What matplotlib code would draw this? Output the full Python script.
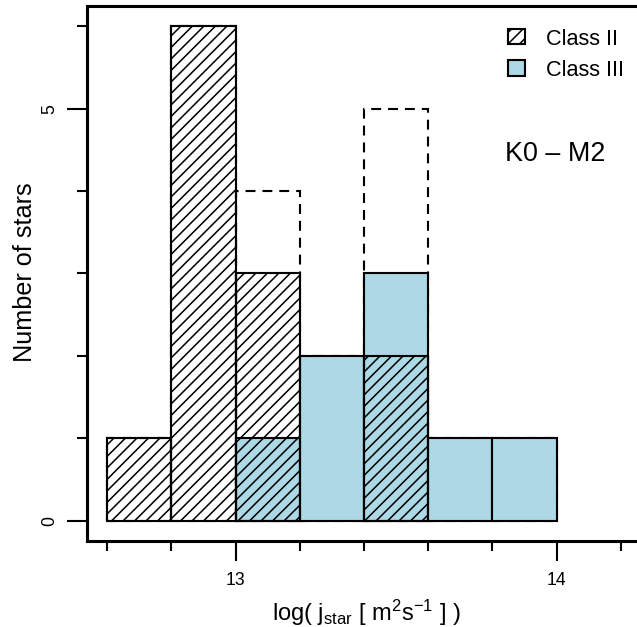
import matplotlib
matplotlib.use("Agg")
import matplotlib.pyplot as plt
import numpy as np

plt.rcParams["font.family"] = ["Liberation Sans", "DejaVu Sans"]
plt.rcParams["mathtext.fontset"] = "custom"
plt.rcParams["mathtext.rm"] = "Liberation Sans"
plt.rcParams["mathtext.it"] = "Liberation Sans:italic"
plt.rcParams["hatch.linewidth"] = 0.8
plt.rcParams["hatch.color"] = "black"

# Histogram of specific angular momentum, K0-M2 stars
bin_edges = [12.6, 12.8, 13.0, 13.2, 13.4, 13.6, 13.8, 14.0]
class_ii = [1, 6, 3, 0, 2, 0, 0]
class_iii = [0, 0, 1, 2, 3, 1, 1]
major_xticks = [13, 14]
minor_xticks = [12.6, 12.8, 13.2, 13.4, 13.6, 13.8, 14.2]
major_yticks = [0, 5]
minor_yticks = [1, 2, 3, 4, 6]
series_labels = ["Class II", "Class III"]
group_label = "K0 \u2013 M2"

DPI = 138
fig = plt.figure(figsize=(637.5 / DPI, 627.5 / DPI), dpi=DPI)
ax = fig.add_axes([0.1361, 0.1375, 0.8700, 0.8517])

edges = np.array(bin_edges)
left = edges[:-1]
width = np.diff(edges)
ii = np.array(class_ii)
iii = np.array(class_iii)
total = ii + iii

lw = 1.1
# total counts, dashed outline underneath
m = total > 0
ax.bar(left[m], total[m], width=width[m], align="edge", facecolor="none",
       edgecolor="black", linewidth=lw, linestyle=(0, (4.7, 3.3)))
m = iii > 0
b3 = ax.bar(left[m], iii[m], width=width[m], align="edge", facecolor="#ADD8E6",
            edgecolor="black", linewidth=lw, label=series_labels[1])
m = ii > 0
b2 = ax.bar(left[m], ii[m], width=width[m], align="edge", facecolor="none",
            edgecolor="black", hatch="////", linewidth=lw, label=series_labels[0])

ax.set_xlim(12.536, 14.264)
ax.set_ylim(-0.24, 6.24)

ax.set_xticks(major_xticks)
ax.set_xticklabels([str(t) for t in major_xticks])
ax.set_xticks(minor_xticks, minor=True)
ax.set_yticks(major_yticks)
ax.set_yticklabels([str(t) for t in major_yticks])
ax.set_yticks(minor_yticks, minor=True)

ax.tick_params(which="major", direction="out", length=10.4, width=1.1,
               labelsize=9.2, pad=5.5)
ax.tick_params(which="minor", direction="out", length=5.2, width=1.1)
ax.tick_params(axis="y", which="major", pad=4.3)
for lab in ax.get_yticklabels():
    lab.set_rotation(90)
    lab.set_va("center")
    lab.set_ha("right")

for s in ax.spines.values():
    s.set_linewidth(1.6)

fig.text(366 / 637, 1 - 620 / 627,
         r"log( $\mathrm{j}_{\mathrm{star}}$ [ m$^{2}$s$^{-1}$ ] )",
         ha="center", va="baseline", fontsize=12.3)
fig.text(37 / 637, 1 - 272 / 627, "Number of stars", rotation=90,
         ha="right", va="center", fontsize=13.2)

ax.legend(handles=[b2, b3], labels=series_labels, loc="upper left",
          bbox_to_anchor=(508 / 637, 1 - 28.5 / 627),
          bbox_transform=fig.transFigure, frameon=False, borderpad=0,
          borderaxespad=0, fontsize=11.3, handlelength=0.75,
          handleheight=0.75, handletextpad=1.0, labelspacing=0.5)

ax.text(13.84, 4.45, group_label, ha="left", va="center", fontsize=14)

fig.savefig("out.png", dpi=DPI)
